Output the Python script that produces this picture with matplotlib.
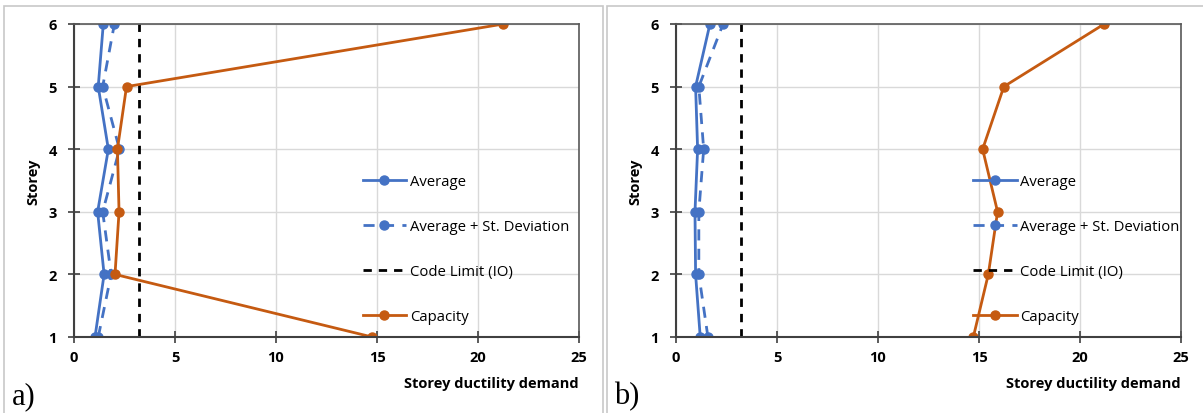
import matplotlib
matplotlib.use('Agg')
import matplotlib.pyplot as plt
from matplotlib.patches import Rectangle

plt.rcParams['font.family'] = ['Open Sans', 'DejaVu Sans']

storey = [1, 2, 3, 4, 5, 6]
code_limit = 3.2

# panel a)
avg_a = [1.04, 1.49, 1.17, 1.70, 1.20, 1.45]
avgsd_a = [1.20, 1.84, 1.42, 2.25, 1.42, 2.00]
cap_a = [14.76, 2.03, 2.23, 2.15, 2.60, 21.26]

# panel b)
avg_b = [1.20, 0.97, 0.94, 1.07, 0.97, 1.68]
avgsd_b = [1.58, 1.13, 1.13, 1.37, 1.13, 2.33]
cap_b = [14.72, 15.46, 15.92, 15.18, 16.23, 21.20]

blue = '#4472C4'
orange = '#C55A11'

W, H = 1203, 414
fig = plt.figure(figsize=(W / 100, H / 100), dpi=100)

# gray frames round each panel
fig.patches.append(Rectangle((4 / W, -0.05), 599 / W, 1 - 7 / H + 0.05,
                             transform=fig.transFigure, fill=False,
                             edgecolor='#C8C8C8', lw=1.2))
fig.patches.append(Rectangle((607 / W, -0.05), 620 / W, 1 - 7 / H + 0.05,
                             transform=fig.transFigure, fill=False,
                             edgecolor='#C8C8C8', lw=1.2))

panels = [(74, 'a)', avg_a, avgsd_a, cap_a, 0.572),
          (676, 'b)', avg_b, avgsd_b, cap_b, 0.589)]

for left, tag, avg, avgsd, cap, legx in panels:
    ax = fig.add_axes([left / W, (H - 338) / H, 505 / W, 313 / H])
    ax.plot(avg, storey, '-o', color=blue, lw=2, ms=6.5, label='Average')
    ax.plot(avgsd, storey, '--o', color=blue, lw=2, ms=6.5, dashes=(4, 3),
            label='Average + St. Deviation')
    ax.plot([code_limit] * len(storey), storey, '--', color='black', lw=2,
            dashes=(3, 2.5), label='Code Limit (IO)')
    ax.plot(cap, storey, '-o', color=orange, lw=2, ms=6.5, label='Capacity')

    ax.set_xlim(0, 25)
    ax.set_ylim(1, 6)
    ax.set_xticks([0, 5, 10, 15, 20, 25])
    ax.set_yticks(storey)
    ax.grid(True, color='#D9D9D9', lw=1)
    ax.set_axisbelow(True)
    for s in ['left', 'bottom']:
        ax.spines[s].set_color('#404040')
        ax.spines[s].set_linewidth(1.5)
    for s in ['top', 'right']:
        ax.spines[s].set_color('#595959')
        ax.spines[s].set_linewidth(1.2)
    ax.tick_params(direction='inout', length=9, width=1.2, color='#404040',
                   labelsize=10.5)
    ax.tick_params(axis='y', pad=8)
    ax.tick_params(axis='x', pad=5)
    for lab in ax.get_xticklabels() + ax.get_yticklabels():
        lab.set_fontweight('bold')

    ax.set_ylabel('Storey', fontsize=10.5, fontweight='bold', labelpad=6)
    ax.set_xlabel('Storey ductility demand', fontsize=10.5, fontweight='bold')
    ax.xaxis.set_label_coords(1.0, -0.125)
    ax.xaxis.label.set_horizontalalignment('right')

    ax.legend(loc='upper left', bbox_to_anchor=(legx, 0.52), frameon=False,
              fontsize=10.7, labelspacing=2.02, handlelength=2.9,
              handletextpad=0.25, borderaxespad=0, borderpad=0)

    fig.text((left - 62) / W, 3 / H, tag, family='Liberation Serif',
             fontsize=22, ha='left', va='bottom')

fig.savefig('out.png', dpi=100)
